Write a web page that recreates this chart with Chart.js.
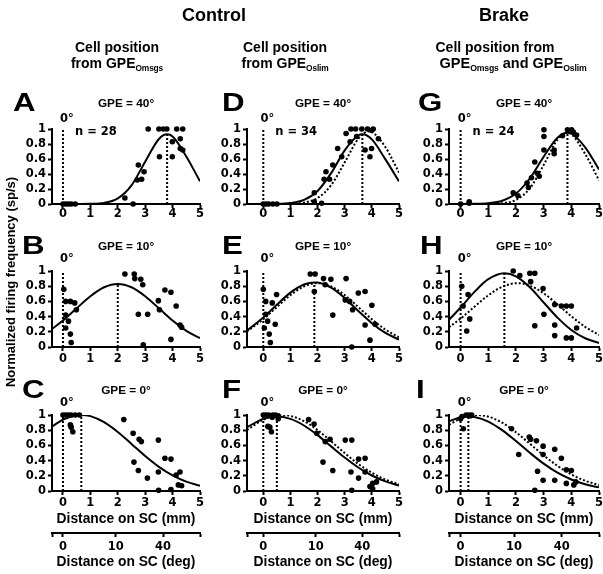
<!DOCTYPE html>
<html>
<head>
<meta charset="utf-8">
<script src="https://cdn.jsdelivr.net/npm/chart.js@4.4.1/dist/chart.umd.min.js"></script>
<style>
  html, body { margin: 0; padding: 0; background: #fff; overflow: hidden; }
  body { width: 603px; height: 574px; position: relative; color: #000;
         font-family: "Liberation Sans", Arial, sans-serif; font-weight: bold; }
  .t { position: absolute; white-space: nowrap; line-height: 1; transform: translate(-50%, -50%); filter: grayscale(1); }
  .t sub { font-size: 0.6em; vertical-align: -0.35em; letter-spacing: -0.02em; }
  .let { position: absolute; line-height: 1; font-size: 25px; transform-origin: 0 50%;
         transform: translateY(-50%) scaleX(1.25); }
  canvas { position: absolute; }
</style>
</head>
<body>
<div class="t" style="left:214px;top:15px;font-size:18px">Control</div>
<div class="t" style="left:504px;top:15px;font-size:18px">Brake</div>
<div class="t" style="left:117px;top:47px;font-size:14px">Cell position</div>
<div class="t" style="left:117px;top:64px;font-size:14px">from GPE<sub>Omsgs</sub></div>
<div class="t" style="left:285px;top:47px;font-size:14px">Cell position</div>
<div class="t" style="left:285px;top:64px;font-size:14px">from GPE<sub>Oslim</sub></div>
<div class="t" style="left:495px;top:47px;font-size:14px">Cell position from</div>
<div class="t" style="left:513px;top:64px;font-size:14.5px">GPE<sub>Omsgs</sub> and GPE<sub>Oslim</sub></div>
<div class="t" style="left:10px;top:282px;font-size:13px;transform:translate(-50%,-50%) rotate(-90deg)">Normalized firing frequency (sp/s)</div>

<script>
// ---- axes -------------------------------------------------------------
const X_TICKS = [0, 1, 2, 3, 4, 5];
const Y_TICKS = [0, 0.2, 0.4, 0.6, 0.8, 1];
const X_MIN = [-0.4, -0.6, -0.42];   // left end of each column's x axis (mm)
const X_MAX = 5;
const DEG_LABELS = ["0", "10", "40"];
const DEG_AT_MM = [0, 1.93, 3.65];   // where those degrees sit on the mm axis
const ZERO_X = 0;                     // 0° reference line

const GPE_TITLES = ["GPE = 40°", "GPE = 10°", "GPE = 0°"];
const N_LABELS = ["n = 28", "n = 34", "n = 24"];

// ---- cells (distance mm, normalized rate) ----------------------------
const PTS_A = [[0,0],[0.1,0],[0.2,0],[0.3,0],[0.45,0],[2.26,0.08],[2.56,0],[2.71,0.32],[2.75,0.52],[2.87,0.33],[2.96,0.43],
  [3.11,1],[3.5,1],[3.66,1],[3.52,0.63],[3.79,1],[3.99,0.63],[3.99,0.83],[4.15,1],[4.37,1],[4.28,0.87],[4.28,0.74],[4.37,0.72]];
const PTS_D = [[0,0],[0.1,0],[0.2,0],[0.35,0],[0.5,0],[1.88,0.03],[2.15,0.01],[1.88,0.15],[2.24,0.33],[2.31,0.43],[2.44,0.33],
  [2.56,0.52],[2.74,0.74],[2.89,0.63],[3.05,0.94],[3.23,1],[3.4,1],[3.2,0.83],[3.44,0.9],[3.63,1],[3.75,0.72],[3.84,1],
  [3.99,0.98],[4.05,1],[3.99,0.74],[3.93,0.63],[4.24,0.87]];
const PTS_G = [[0,0],[0.31,0.03],[0.31,0.01],[1.9,0.15],[2.07,0.11],[2.4,0.28],[2.45,0.22],[2.56,0.35],[2.68,0.56],[2.77,0.41],
  [2.84,0.37],[3.01,0.72],[3.01,0.99],[3.01,0.9],[3.38,0.72],[3.38,0.67],[3.68,0.91],[3.86,0.99],[4.01,0.99],[4.07,0.96],[4.19,0.92]];
const PTS_B = [[0.03,0.76],[0.1,0.6],[0.27,0.6],[0.43,0.58],[0.49,0.49],[0.1,0.42],[0.2,0.34],[0.1,0.25],[0.27,0.17],[0.3,0.06],
  [2.26,0.96],[2.6,0.96],[2.62,0.9],[2.84,0.89],[2.91,0.82],[2.75,0.43],[3.09,0.43],[3.48,0.61],[3.52,0.49],[3.72,0.75],
  [3.94,0.72],[4.13,0.54],[4.27,0.29],[4.33,0.26],[3.94,0.1],[2.93,0.03]];
const PTS_E = [[0,0.76],[0.09,0.6],[0.33,0.58],[0.49,0.69],[0.09,0.43],[0.16,0.34],[0.44,0.3],[0.04,0.25],[0.22,0.17],[0.26,0.06],
  [1.73,0.96],[1.91,0.96],[1.88,0.73],[2.22,0.9],[2.49,0.89],[2.28,0.82],[3.05,0.9],[2.56,0.42],[3.02,0.62],[3.18,0.6],
  [3.29,0.49],[3.5,0.71],[3.75,0.73],[4.0,0.55],[3.75,0.29],[4.12,0.3],[3.93,0.09],[3.26,0]];
const PTS_H = [[0.04,0.8],[0.27,0.69],[0.09,0.54],[0.33,0.37],[0.22,0.21],[1.9,1],[2.14,0.94],[2.5,0.97],[2.68,0.97],[2.53,0.86],
  [2.98,0.77],[2.68,0.28],[3.01,0.43],[3.4,0.56],[3.64,0.54],[3.82,0.54],[4.0,0.54],[3.4,0.29],[3.4,0.15],[3.82,0.12],
  [4.0,0.12],[4.19,0.25]];
const PTS_C = [[0,1],[0.1,1],[0.2,1],[0.3,1],[0.45,1],[0.6,1],[0.27,0.87],[0.3,0.84],[0.36,0.78],[2.22,0.94],[2.56,0.76],
  [2.78,0.68],[2.86,0.65],[2.59,0.38],[2.75,0.27],[3.08,0.17],[3.48,0.67],[3.48,0.25],[3.49,0.01],[3.72,0.43],[3.94,0.42],
  [4.13,0.21],[4.27,0.25],[4.21,0.08],[4.33,0.07],[3.94,0.02]];
const PTS_F = [[0,1],[0.1,1],[0.2,1],[0.35,1],[0.45,1],[0.55,0.99],[0.33,0.97],[0.55,0.95],[0.17,0.85],[0.24,0.84],[0.3,0.78],
  [1.67,0.94],[1.87,0.88],[1.97,0.76],[2.28,0.65],[2.46,0.68],[2.2,0.38],[2.56,0.27],[3.02,0.67],[3.26,0.67],[3.51,0.42],
  [3.75,0.43],[3.23,0.25],[3.51,0.17],[3.75,0.25],[3.26,0.01],[3.93,0.06],[4.03,0.1],[4.17,0.12],[4.03,0.03]];
const PTS_I = [[0.05,0.98],[0.2,1],[0.3,1],[0.4,1],[0.35,0.99],[0,0.95],[0.1,0.82],[1.84,0.82],[2.1,0.48],[2.48,0.71],
  [2.53,0.68],[2.74,0.66],[2.98,0.59],[2.98,0.48],[2.78,0.26],[2.98,0.14],[3.4,0.55],[3.64,0.43],[3.4,0.14],[3.82,0.28],
  [4.0,0.27],[3.82,0.1],[4.09,0.08],[4.16,0.12],[2.68,0.01]];

// ---- fitted tuning curves (solid / dotted) ---------------------------
const FIT_A  = [[-0.4,0],[0.5,0],[1,0.002],[1.5,0.015],[2,0.074],[2.5,0.248],[3,0.564],[3.5,0.867],[3.8,0.93],[4,0.901],[4.5,0.634],[5,0.302]];
const FIT_D  = [[-0.6,0],[0.5,0.002],[1,0.012],[1.5,0.054],[2,0.173],[2.5,0.411],[3,0.716],[3.5,0.917],[3.65,0.93],[4,0.862],[4.5,0.595],[5,0.302]];
const FIT2_D = [[-0.6,0],[0.5,0],[1,0.003],[1.5,0.018],[2,0.08],[2.5,0.251],[3,0.555],[3.5,0.869],[3.9,0.97],[4,0.963],[4.5,0.757],[5,0.421]];
const FIT_G  = [[-0.42,0],[0.5,0.002],[1,0.01],[1.5,0.043],[2,0.139],[2.5,0.34],[3,0.63],[3.5,0.884],[3.86,0.95],[4,0.94],[4.5,0.756],[5,0.461]];
const FIT2_G = [[-0.42,0],[1,0.001],[1.5,0.01],[2,0.055],[2.5,0.208],[3,0.52],[3.5,0.858],[3.85,0.95],[4,0.932],[4.5,0.668],[5,0.316]];
const FIT_B  = [[-0.4,0.237],[0,0.348],[0.5,0.509],[1,0.668],[1.5,0.786],[2,0.83],[2.5,0.786],[3,0.668],[3.5,0.509],[4,0.348],[4.5,0.213],[5,0.117]];
const FIT_E  = [[-0.6,0.217],[0,0.388],[0.5,0.557],[1,0.716],[1.5,0.823],[1.88,0.85],[2,0.848],[2.5,0.78],[3,0.643],[3.5,0.474],[4,0.313],[4.5,0.185],[5,0.098]];
const FIT2_E = [[-0.6,0.205],[0,0.365],[0.5,0.526],[1,0.682],[1.5,0.797],[2,0.84],[2.5,0.797],[3,0.682],[3.5,0.526],[4,0.365],[4.5,0.229],[5,0.129]];
const FIT_H  = [[-0.42,0.357],[0,0.52],[0.5,0.725],[1,0.892],[1.58,0.97],[2,0.928],[2.5,0.785],[3,0.586],[3.5,0.386],[4,0.224],[4.5,0.115],[5,0.052]];
const FIT2_H = [[-0.42,0.26],[0,0.374],[0.5,0.529],[1,0.68],[1.5,0.792],[2.05,0.84],[2.5,0.808],[3,0.706],[3.5,0.561],[4,0.404],[4.5,0.265],[5,0.157]];
const FIT_C  = [[-0.4,0.849],[0,0.938],[0.5,0.996],[0.67,1],[1,0.985],[1.5,0.906],[2,0.777],[2.5,0.62],[3,0.46],[3.5,0.318],[4,0.205],[4.5,0.123],[5,0.069]];
const FIT_F  = [[-0.6,0.839],[0,0.949],[0.5,0.98],[1,0.949],[1.5,0.862],[2,0.735],[2.5,0.587],[3,0.44],[3.5,0.309],[4,0.204],[4.5,0.126],[5,0.073]];
const FIT2_F = [[-0.6,0.801],[0,0.938],[0.5,0.995],[0.7,1],[1,0.988],[1.5,0.919],[2,0.801],[2.5,0.653],[3,0.499],[3.5,0.356],[4,0.239],[4.5,0.15],[5,0.088]];
const FIT_I  = [[-0.42,0.917],[0,0.97],[0.28,0.98],[0.5,0.974],[1,0.914],[1.5,0.801],[2,0.657],[2.5,0.503],[3,0.36],[3.5,0.241],[4,0.151],[4.5,0.088],[5,0.048]];
const FIT2_I = [[-0.42,0.872],[0,0.954],[0.5,0.999],[0.6,1],[1,0.979],[1.5,0.899],[2,0.773],[2.5,0.622],[3,0.469],[3.5,0.331],[4,0.218],[4.5,0.135],[5,0.078]];

// peak of the solid fit: [x, y]
const PEAK_A = [3.8, 0.93], PEAK_D = [3.65, 0.93], PEAK_G = [3.86, 0.95];
const PEAK_B = [2.0, 0.83], PEAK_E = [1.88, 0.85], PEAK_H = [1.58, 0.97];
const PEAK_C = [0.67, 1.0], PEAK_F = [0.5, 0.98],  PEAK_I = [0.28, 0.98];

// ---- layout (px) -----------------------------------------------------
const COL_L = [52, 247, 449], COL_R = [200, 399, 599];
const ROW_T = [129, 271, 415], ROW_B = [204, 347, 491];
const YW = 40, PT = 20, PR = 7, XH = 22, XH_MM = 42, XH_DEG = 37;
const LETTER_Y = [102, 245, 389];

const PANELS = [
  { id: "A", col: 0, row: 0, pts: PTS_A, fit: FIT_A, fit2: null,   peak: PEAK_A, lx: 13 },
  { id: "B", col: 0, row: 1, pts: PTS_B, fit: FIT_B, fit2: null,   peak: PEAK_B, lx: 22 },
  { id: "C", col: 0, row: 2, pts: PTS_C, fit: FIT_C, fit2: null,   peak: PEAK_C, lx: 22 },
  { id: "D", col: 1, row: 0, pts: PTS_D, fit: FIT_D, fit2: FIT2_D, peak: PEAK_D, lx: 222 },
  { id: "E", col: 1, row: 1, pts: PTS_E, fit: FIT_E, fit2: FIT2_E, peak: PEAK_E, lx: 222 },
  { id: "F", col: 1, row: 2, pts: PTS_F, fit: FIT_F, fit2: FIT2_F, peak: PEAK_F, lx: 222 },
  { id: "G", col: 2, row: 0, pts: PTS_G, fit: FIT_G, fit2: FIT2_G, peak: PEAK_G, lx: 418 },
  { id: "H", col: 2, row: 1, pts: PTS_H, fit: FIT_H, fit2: FIT2_H, peak: PEAK_H, lx: 420 },
  { id: "I", col: 2, row: 2, pts: PTS_I, fit: FIT_I, fit2: FIT2_I, peak: PEAK_I, lx: 416 },
];

const TICK_FONT = { family: '"DejaVu Sans", sans-serif', size: 11.5, weight: "bold" };
const TITLE_FONT = { family: '"Liberation Sans", Arial, sans-serif', size: 13.8, weight: "bold" };

// "0°" over the reference line and the n label
const annotPlugin = {
  id: "annot",
  afterDraw(chart, args, o) {
    const { ctx, chartArea, scales } = chart;
    const x0 = scales.x.getPixelForValue(ZERO_X);
    ctx.save();
    ctx.fillStyle = "#000";
    ctx.font = 'bold 11.5px "DejaVu Sans", sans-serif';
    ctx.textBaseline = "middle";
    ctx.textAlign = "center";
    ctx.fillText("0°", x0 + 4, chartArea.top - o.dy);
    if (o.n) {
      ctx.textAlign = "left";
      ctx.fillText(o.n, x0 + 12, chartArea.top + 3);
    }
    ctx.restore();
  },
};

function axisCommon(extra) {
  return Object.assign({
    border: { color: "#000", width: 2 },
    grid: { drawOnChartArea: false, color: "#000", tickColor: "#000", tickWidth: 2, tickLength: 4 },
    ticks: { color: "#000", font: TICK_FONT, autoSkip: false, maxRotation: 0 },
  }, extra);
}

function makePanel(p) {
  const L = COL_L[p.col], R = COL_R[p.col], T = ROW_T[p.row], B = ROW_B[p.row];
  const bottom = p.row === 2;
  const xh = bottom ? XH_MM + XH_DEG : XH;
  const w = R - L + YW + PR, h = PT + (B - T) + xh;
  const cv = document.createElement("canvas");
  cv.width = w; cv.height = h;
  cv.style.left = (L - YW) + "px"; cv.style.top = (T - PT) + "px";
  cv.style.width = w + "px"; cv.style.height = h + "px";
  document.body.appendChild(cv);

  // panel letter and GPE title
  const let_ = document.createElement("div");
  let_.className = "let"; let_.textContent = p.id;
  let_.style.left = p.lx + "px"; let_.style.top = LETTER_Y[p.row] + "px";
  document.body.appendChild(let_);
  const tt = document.createElement("div");
  tt.className = "t"; tt.textContent = GPE_TITLES[p.row];
  tt.style.left = ((L + R) / 2) + "px"; tt.style.top = (LETTER_Y[p.row] + 2) + "px";
  tt.style.fontSize = "11.8px";
  document.body.appendChild(tt);

  const datasets = [
    { data: p.pts, backgroundColor: "#000", borderWidth: 0, pointRadius: 2.8, clip: false, order: 0 },
    { data: p.fit, showLine: true, borderColor: "#000", borderWidth: 2, pointRadius: 0,
      cubicInterpolationMode: "monotone", order: 2 },
  ];
  if (p.fit2) datasets.push({ data: p.fit2, showLine: true, borderColor: "#000", borderWidth: 2,
    borderDash: [2, 2], pointRadius: 0, cubicInterpolationMode: "monotone", order: 3 });
  datasets.push({ data: [[ZERO_X, Y_TICKS[0]], [ZERO_X, Y_TICKS[Y_TICKS.length - 1]]], showLine: true,
    borderColor: "#000", borderWidth: 2, borderDash: [2, 2], pointRadius: 0, order: 4 });
  datasets.push({ data: [[p.peak[0], 0], p.peak], showLine: true, borderColor: "#000", borderWidth: 2,
    borderDash: [2, 2], pointRadius: 0, order: 4 });

  const scales = {
    x: axisCommon({
      type: "linear", min: X_MIN[p.col], max: X_MAX,
      afterBuildTicks: (s) => { s.ticks = X_TICKS.map((v) => ({ value: v })); },
      afterFit: (s) => { s.height = bottom ? XH_MM : XH; },
      title: { display: bottom, text: "Distance on SC (mm)", color: "#000", font: TITLE_FONT,
               padding: { top: 0, bottom: 6 } },
    }),
    y: axisCommon({
      type: "linear", min: Y_TICKS[0], max: Y_TICKS[Y_TICKS.length - 1],
      afterBuildTicks: (s) => { s.ticks = Y_TICKS.map((v) => ({ value: v })); },
      afterFit: (s) => { s.width = YW; },
    }),
  };
  scales.x.ticks = Object.assign({}, scales.x.ticks, { padding: p.row === 0 ? -1 : 1, callback: (v) => String(v) });
  scales.y.ticks = Object.assign({}, scales.y.ticks, { padding: 2, callback: (v) => String(v) });

  if (bottom) {
    const degTicks = [X_MIN[p.col], ...DEG_AT_MM, X_MAX];
    scales.deg = axisCommon({
      type: "linear", position: "bottom", weight: 1, min: X_MIN[p.col], max: X_MAX,
      afterBuildTicks: (s) => { s.ticks = degTicks.map((v) => ({ value: v })); },
      afterFit: (s) => { s.height = XH_DEG; },
      title: { display: true, text: "Distance on SC (deg)", color: "#000", font: TITLE_FONT,
               padding: { top: 0, bottom: 0 } },
    });
    scales.deg.ticks = Object.assign({}, scales.deg.ticks, {
      padding: 3,
      callback: (v, i, arr) => (i === 0 || i === arr.length - 1 ? "" : DEG_LABELS[i - 1]),
    });
  }

  new Chart(cv, {
    type: "scatter",
    data: { datasets },
    options: {
      responsive: false, animation: false, devicePixelRatio: 1,
      layout: { padding: { top: PT, right: PR, left: 0, bottom: 0 } },
      plugins: { legend: { display: false }, tooltip: { enabled: false },
                 annot: { dy: p.row === 0 ? 10 : 12, n: p.row === 0 ? N_LABELS[p.col] : null } },
      scales,
    },
    plugins: [annotPlugin],
  });
}

PANELS.forEach(makePanel);
</script>
</body>
</html>
